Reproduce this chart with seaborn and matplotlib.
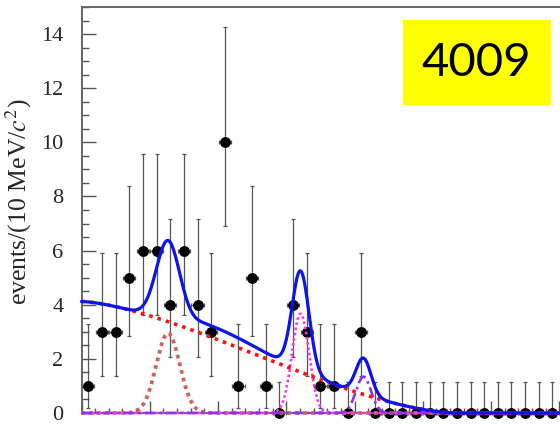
import numpy as np
import pandas as pd
import matplotlib
matplotlib.use("Agg")
import matplotlib.pyplot as plt
from matplotlib.patches import Rectangle
from matplotlib.ticker import MultipleLocator
import seaborn as sns

# ---- data: 10 MeV bins ----
bin_width = 0.010          # GeV/c^2
first_edge = 3.700         # lower edge of first bin
counts = [1, 3, 3, 5, 6, 6, 4, 6, 4, 3, 10, 1, 5, 1, 0, 4, 3, 1, 1, 0, 3,
          0, 0, 0, 0, 0, 0, 0, 0, 0, 0, 0, 0, 0, 0]
# 68.3% Poisson intervals for each observed count (zero count: one-sided)
poisson_lo = {0: 0.0, 1: 0.173, 2: 0.708, 3: 1.367, 4: 2.086, 5: 2.840, 6: 3.620, 10: 6.891}
poisson_hi = {0: 1.148, 1: 3.300, 2: 4.638, 3: 5.918, 4: 7.163, 5: 8.382, 6: 9.584, 10: 14.267}

# ---- fit result ----
bkg_norm = 4.12            # events/bin at lower edge
bkg_span = 0.275           # GeV, background endpoint above first edge
bkg_powers = [1.5, 1.7]
peak_means = [3.7634, 3.8605, 3.9066]
peak_sigmas = [0.0086, 0.0062, 0.0055]
peak_amps = [2.95, 3.67, 1.34]
# wide asymmetric component, included in the total only
broad_mean, broad_sigma_lo, broad_sigma_hi, broad_amp = 3.7945, 0.015, 0.035, 0.42

sample_label = "4009"

# ---- derived ----
centers = first_edge + bin_width * (np.arange(len(counts)) + 0.5)
counts = np.array(counts)
err_lo = counts - np.array([poisson_lo[c] for c in counts])
err_hi = np.array([poisson_hi[c] for c in counts]) - counts

m = np.linspace(first_edge, first_edge + 0.37, 2000)
u = np.clip((m - first_edge) / bkg_span, 0, 1)
bkg = bkg_norm * (1 - u ** bkg_powers[0]) ** bkg_powers[1]
peaks = [a * np.exp(-0.5 * ((m - mu) / s) ** 2)
         for mu, s, a in zip(peak_means, peak_sigmas, peak_amps)]
broad_sig = np.where(m < broad_mean, broad_sigma_lo, broad_sigma_hi)
broad = broad_amp * np.exp(-0.5 * ((m - broad_mean) / broad_sig) ** 2)
total = bkg + sum(peaks) + broad

curves = pd.DataFrame({"m": m, "bkg": bkg, "p1": peaks[0], "p2": peaks[1],
                       "p3": peaks[2], "total": total})

# ---- style ----
sns.set_style("ticks")
plt.rcParams["font.family"] = ["Liberation Serif", "DejaVu Serif"]
plt.rcParams["mathtext.fontset"] = "stix"

fig = plt.figure(figsize=(5.6, 4.25), dpi=100)
ax = fig.add_axes([81.5 / 560, 12 / 425, 491.4 / 560, 406 / 425])

ax.errorbar(centers, counts, yerr=[err_lo, err_hi], xerr=0.0045,
            fmt="o", color="black", ms=6.8, ecolor="#555555",
            elinewidth=0.9, capsize=1.5, capthick=0.9, zorder=2,
            clip_on=False)

line_specs = [
    ("p1", "#d8605c", 2.7, (0, (1, 1.1))),
    ("p2", "#ff33ff", 1.9, (0, (1, 1.0))),
    ("p3", "#9030f0", 1.9, (0, (4, 1.5, 1, 1.5))),
    ("bkg", "#ff1010", 2.6, (0, (1, 1.4))),
    ("total", "#0a14f0", 2.3, "-"),
]
for col, color, lw, ls in line_specs:
    sns.lineplot(data=curves, x="m", y=col, ax=ax, color=color, linewidth=lw,
                 linestyle=ls, estimator=None, zorder=3, clip_on=False)

ax.set_xlim(first_edge, first_edge + 0.36)
ax.set_ylim(0, 15)
ax.xaxis.set_major_locator(MultipleLocator(0.05))
ax.xaxis.set_minor_locator(MultipleLocator(0.01))
ax.yaxis.set_major_locator(MultipleLocator(2))
ax.yaxis.set_minor_locator(MultipleLocator(0.5))

ax.tick_params(axis="x", which="both", direction="in", labelbottom=False,
               color="#555555", width=1.0)
ax.tick_params(axis="x", which="major", length=8.4)
ax.tick_params(axis="x", which="minor", length=3.6)
ax.tick_params(axis="y", which="both", direction="in", color="#555555",
               width=1.0, labelsize=16, pad=13)
ax.tick_params(axis="y", which="major", length=10)
ax.tick_params(axis="y", which="minor", length=4.8)

for side in ["left", "top", "bottom", "right"]:
    ax.spines[side].set_color("#666666")
    ax.spines[side].set_linewidth(1.4)

ax.set_xlabel("")
ax.set_ylabel("events/(10 MeV/$c^2$)", fontsize=18.5)
ax.yaxis.set_label_coords((34 - 81.5) / 491.4, (413 - 201.5) / 406)

fig.patches.append(Rectangle((403 / 560, 1 - 105 / 425), 148 / 560, 85 / 425,
                             transform=fig.transFigure, facecolor="#ffff00",
                             edgecolor="none", zorder=5))
fig.text(476.5 / 560, 1 - 62.5 / 425, sample_label, ha="center", va="center",
         fontsize=34, family="Lato", color="black", zorder=6)

fig.savefig("out.png", dpi=100)
